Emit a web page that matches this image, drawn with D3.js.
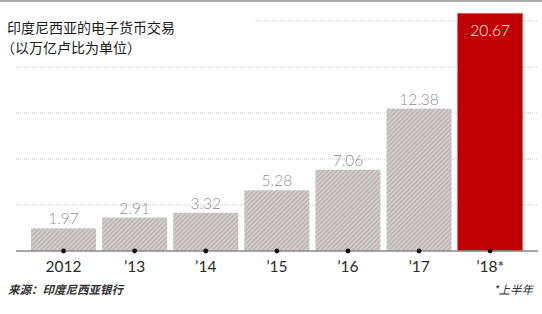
<!DOCTYPE html>
<html>
<head>
<meta charset="utf-8">
<script src="https://cdn.jsdelivr.net/npm/d3@7"></script>
<style>
  body { margin: 0; background: #fff; }
  svg { display: block; }
</style>
</head>
<body>
<div id="chart"></div>
<script>
// Data
const years = ['2012', '\u201913', '\u201914', '\u201915', '\u201916', '\u201917', '\u201918*'];
const values = [1.97, 2.91, 3.32, 5.28, 7.06, 12.38, 20.67];
const valueLabels = ['1.97', '2.91', '3.32', '5.28', '7.06', '12.38', '20.67'];
const gridTicks = [4, 8, 12, 16, 20];
const titleLines = ['印度尼西亚的电子货币交易', '（以万亿卢比为单位）'];
const sourceText = '来源：印度尼西亚银行';
const noteText = '*上半年';

const width = 542, height = 314;
const cjk = '"Noto Sans CJK SC", sans-serif';
const latin = 'Lato, "Open Sans", sans-serif';

const svg = d3.select('#chart').append('svg')
    .attr('width', width)
    .attr('height', height);

// Hatch pattern for the grey bars
const defs = svg.append('defs');
const pat = defs.append('pattern')
    .attr('id', 'hatch')
    .attr('patternUnits', 'userSpaceOnUse')
    .attr('width', 3.2)
    .attr('height', 3.2)
    .attr('patternTransform', 'rotate(45)');
pat.append('rect').attr('width', 3.2).attr('height', 3.2).attr('fill', '#d2cccc');
pat.append('rect').attr('width', 1.2).attr('height', 3.2).attr('fill', '#b8b0b0');

// Scales
const x = d3.scaleBand()
    .domain(years)
    .range([28, 525.7])
    .paddingInner(0.085)
    .paddingOuter(0.0425);

const y = d3.scaleLinear()
    .domain([0, 20])
    .range([251, 21]);

// Top rule
svg.append('rect')
    .attr('x', 0).attr('y', 0)
    .attr('width', width).attr('height', 2)
    .attr('fill', '#a9a9a9');

// Gridlines
svg.append('g')
    .selectAll('line')
    .data(gridTicks)
    .join('line')
    .attr('x1', 16)
    .attr('x2', 538)
    .attr('y1', d => y(d))
    .attr('y2', d => y(d))
    .attr('stroke', '#c8c8c8')
    .attr('stroke-width', 1)
    .attr('stroke-dasharray', '1,1');

// White box behind title hides the top gridline
svg.append('rect')
    .attr('x', 0).attr('y', 8)
    .attr('width', 254).attr('height', 52)
    .attr('fill', '#fff');

// Title
svg.append('g')
    .selectAll('text')
    .data(titleLines)
    .join('text')
    .attr('x', (d, i) => i === 0 ? 7 : 1)
    .attr('y', (d, i) => 32.5 + i * 20.5)
    .attr('font-family', cjk)
    .attr('font-size', 14)
    .attr('fill', '#1a1a1a')
    .text(d => d);

// Bars
const last = years.length - 1;
svg.append('g')
    .selectAll('rect')
    .data(values)
    .join('rect')
    .attr('x', (d, i) => x(years[i]))
    .attr('y', d => y(d))
    .attr('width', x.bandwidth())
    .attr('height', d => y(0) - y(d))
    .attr('fill', (d, i) => i === last ? '#c00000' : 'url(#hatch)')
    .attr('stroke', (d, i) => i === last ? '#e06a6a' : 'none')
    .attr('stroke-width', 0.8);

// Value labels
svg.append('g')
    .selectAll('text')
    .data(values)
    .join('text')
    .attr('x', (d, i) => x(years[i]) + x.bandwidth() / 2)
    .attr('y', (d, i) => i === last ? y(d) + 23 : y(d) - 4)
    .attr('text-anchor', 'middle')
    .attr('font-family', latin)
    .attr('font-weight', 300)
    .attr('font-size', 15.5)
    .attr('fill', (d, i) => i === last ? '#fff' : '#8f8f8f')
    .text((d, i) => valueLabels[i]);

// Baseline
svg.append('line')
    .attr('x1', 16).attr('x2', 538)
    .attr('y1', y(0)).attr('y2', y(0))
    .attr('stroke', '#8a8a8a')
    .attr('stroke-width', 1.5);

// Dots on baseline
svg.append('g')
    .selectAll('circle')
    .data(years)
    .join('circle')
    .attr('cx', d => x(d) + x.bandwidth() / 2)
    .attr('cy', y(0))
    .attr('r', 2.4)
    .attr('fill', '#111');

// Tick labels
svg.append('g')
    .selectAll('text')
    .data(years)
    .join('text')
    .attr('x', d => x(d) + x.bandwidth() / 2)
    .attr('y', 271.5)
    .attr('text-anchor', 'middle')
    .attr('font-family', latin)
    .attr('font-size', 15.5)
    .attr('fill', '#2a2a2a')
    .text(d => d);

// Source and footnote
svg.append('text')
    .attr('x', 8)
    .attr('y', 294)
    .attr('font-family', cjk)
    .attr('font-size', 11.5)
    .attr('font-style', 'italic')
    .attr('font-weight', 'bold')
    .attr('fill', '#333')
    .text(sourceText);

svg.append('text')
    .attr('x', 533)
    .attr('y', 294)
    .attr('text-anchor', 'end')
    .attr('font-family', cjk)
    .attr('font-size', 11.5)
    .attr('font-style', 'italic')
    .attr('fill', '#333')
    .text(noteText);
</script>
</body>
</html>
